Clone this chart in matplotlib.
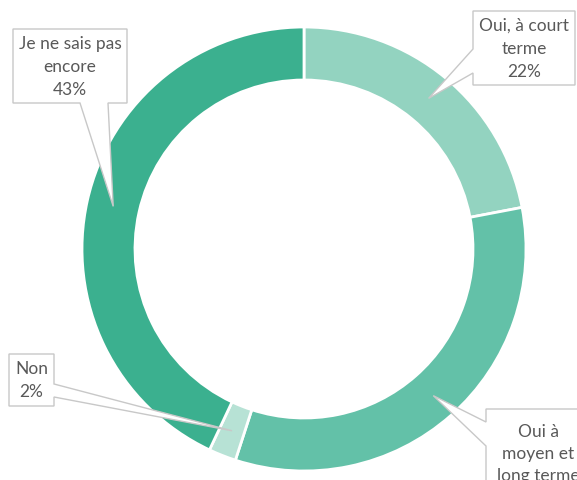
import matplotlib.pyplot as plt
import numpy as np
from matplotlib.patches import Polygon

labels = ["Oui, à court\nterme", "Oui à\nmoyen et\nlong terme", "Non", "Je ne sais pas\nencore"]
values = [22, 33, 2, 43]
colors = ["#93d3c0", "#63c1a8", "#b7e2d5", "#3bb08f"]

# callout boxes in pixel coords (x0, y0, x1, y1), side where the pointer leaves, pointer base
boxes = [
    ((473, 12, 575, 86), "left", (50, 74)),
    ((486, 410, 590, 520), "left", (423, 447)),
    ((9, 355, 54, 407), "right", (385, 398)),
    ((13, 30, 127, 104), "bottom", (80, 108)),
]

W, H = 577, 481
fig = plt.figure(figsize=(W / 100, H / 100), dpi=100)
ax = fig.add_axes([0, 0, 1, 1])

cx, cy, R, width = 304, 250, 222, 53
wedges, _ = ax.pie(values, colors=colors, startangle=-90, counterclock=True,
                   center=(cx, cy), radius=R, frame=True,
                   wedgeprops=dict(width=width, edgecolor="white", linewidth=2))
ax.set_xlim(0, W)
ax.set_ylim(H, 0)
ax.axis("off")

rmid = R - width / 2
for w, lab, val, (box, side, base) in zip(wedges, labels, values, boxes):
    th = np.deg2rad((w.theta1 + w.theta2) / 2)
    tip = (cx + rmid * np.cos(th), cy + rmid * np.sin(th))
    x0, y0, x1, y1 = box
    if side == "bottom":
        pts = [(x0, y0), (x1, y0), (x1, y1), (base[1], y1), tip, (base[0], y1), (x0, y1)]
    elif side == "left":
        pts = [(x0, y0), (x1, y0), (x1, y1), (x0, y1), (x0, base[1]), tip, (x0, base[0])]
    else:
        pts = [(x0, y0), (x1, y0), (x1, base[0]), tip, (x1, base[1]), (x1, y1), (x0, y1)]
    ax.add_patch(Polygon(pts, closed=True, facecolor="white", edgecolor="#c8c8c8",
                         linewidth=1.0, zorder=5))
    lines = lab.split("\n") + [f"{val}%"]
    n = len(lines)
    step = 23 if y1 < H else 22
    start = (y0 + y1) / 2 - step * (n - 1) / 2
    if y1 > H:
        start = y0 + 22
    for i, t in enumerate(lines):
        ax.text((x0 + x1) / 2, start + i * step, t, ha="center", va="center",
                fontsize=12.5, color="#595959", family="Lato", zorder=6)

fig.savefig("out.png", dpi=100)
